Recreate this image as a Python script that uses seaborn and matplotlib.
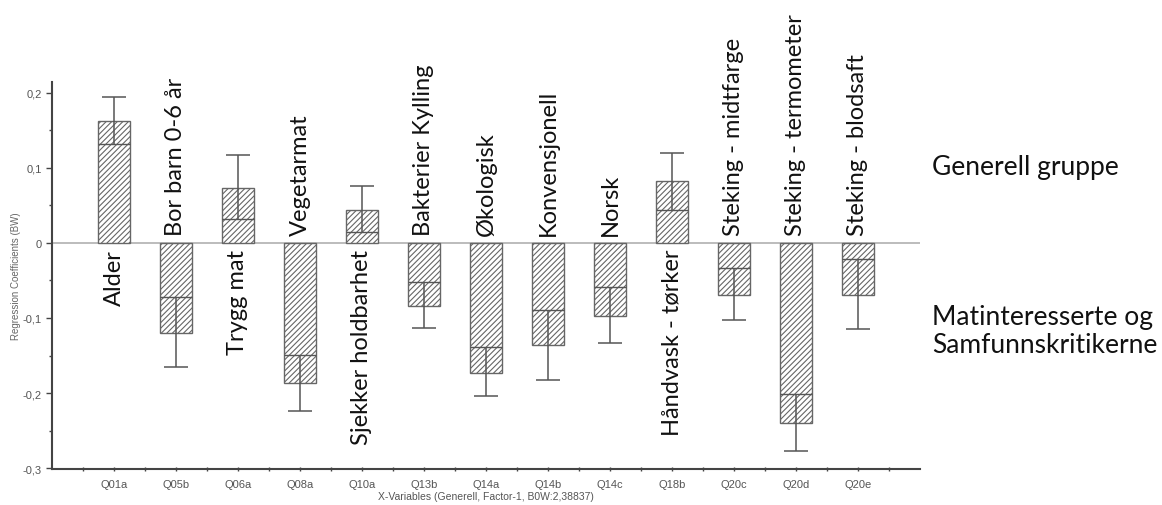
import numpy as np
import matplotlib
matplotlib.use("Agg")
import matplotlib.pyplot as plt
import seaborn as sns

# Data
codes = ["Q01a", "Q05b", "Q06a", "Q08a", "Q10a", "Q13b", "Q14a",
         "Q14b", "Q14c", "Q18b", "Q20c", "Q20d", "Q20e"]
names = ["Alder", "Bor barn 0-6 år", "Trygg mat", "Vegetarmat",
         "Sjekker holdbarhet", "Bakterier Kylling", "Økologisk",
         "Konvensjonell", "Norsk", "Håndvask - tørker",
         "Steking - midtfarge", "Steking - termometer", "Steking - blodsaft"]
coef = [0.162, -0.120, 0.073, -0.187, 0.044, -0.084, -0.173,
        -0.136, -0.097, 0.082, -0.070, -0.240, -0.070]
ci_low = [0.131, -0.165, 0.032, -0.224, 0.015, -0.113, -0.204,
          -0.182, -0.133, 0.044, -0.103, -0.277, -0.115]
ci_high = [0.194, -0.072, 0.117, -0.149, 0.076, -0.052, -0.138,
           -0.089, -0.059, 0.120, -0.033, -0.201, -0.021]
yticks = [0.2, 0.1, 0.0, -0.1, -0.2, -0.3]
ytick_labels = ["0,2", "0,1", "0", "-0,1", "-0,2", "-0,3"]
group_top = "Generell gruppe"
group_bottom = "Matinteresserte og\nSamfunnskritikerne"

sns.set_style("ticks")
plt.rcParams["font.family"] = ["Liberation Sans", "DejaVu Sans"]
plt.rcParams["hatch.color"] = "#4a4a4a"
plt.rcParams["hatch.linewidth"] = 0.8

fig = plt.figure(figsize=(11.62, 5.06), dpi=100)
ax = fig.add_axes([52 / 1162, 36 / 506, 868 / 1162, 387 / 506])

bar_w = 0.51
sns.barplot(x=codes, y=coef, color="white", saturation=1, edgecolor="#666666",
            linewidth=1.0, width=bar_w, ax=ax)
for p in ax.patches:
    p.set_hatch("//////")

ax.axhline(0, color="#b0b0b0", lw=1.2, zorder=0)

# error bars: cap at the outer end, full-width line at the inner end
x = np.arange(len(codes))
coef_a = np.array(coef)
lo = np.array(ci_low)
hi = np.array(ci_high)
outer = np.where(coef_a > 0, hi, lo)
inner = np.where(coef_a > 0, lo, hi)
ax.vlines(x, lo, hi, color="#555555", lw=1.1, zorder=3)
ax.hlines(outer, x - 0.2, x + 0.2, color="#555555", lw=1.1, zorder=3)
ax.hlines(inner, x - bar_w / 2, x + bar_w / 2, color="#555555", lw=1.0, zorder=3)

# variable names above/below the zero line
for xi, c, name in zip(x, coef, names):
    if c > 0:
        ax.text(xi, -0.008, name, rotation=90, ha="center", va="top",
                fontsize=17, family=["Lato", "DejaVu Sans"], color="#111111")
    else:
        ax.text(xi, 0.011, name, rotation=90, ha="center", va="bottom",
                fontsize=17, family=["Lato", "DejaVu Sans"], color="#111111")

ax.set_xlim(-1, 13)
ax.set_ylim(-0.301, 0.214)
ax.set_yticks(yticks)
ax.set_yticklabels(ytick_labels)
ax.set_yticks(np.arange(-0.3, 0.21, 0.05), minor=True)
ax.set_xticks(x)
ax.set_xticklabels(codes)
ax.set_xticks(np.arange(-0.5, 13, 1), minor=True)

ax.tick_params(axis="both", which="both", colors="#444444", labelcolor="#555555",
               labelsize=8, width=1)
ax.tick_params(axis="y", which="major", length=4)
ax.tick_params(axis="y", which="minor", length=2)
ax.tick_params(axis="x", which="both", length=3, direction="inout", pad=6)

ax.set_ylabel("Regression Coefficients (BW)", fontsize=7, color="#666666")
ax.yaxis.set_label_coords(-0.036, 0.5)
ax.set_xlabel("X-Variables (Generell, Factor-1, B0W:2,38837)", fontsize=7.5,
              color="#555555", labelpad=1)

sns.despine(ax=ax)
for s in ["left", "bottom"]:
    ax.spines[s].set_color("#444444")
    ax.spines[s].set_linewidth(1.5)

fig.text(932 / 1162, 1 - 167 / 506, group_top, fontsize=19, va="center",
         family=["Lato", "DejaVu Sans"], color="#111111")
fig.text(932 / 1162, 1 - 332 / 506, group_bottom, fontsize=19, va="center",
         family=["Lato", "DejaVu Sans"], color="#111111", linespacing=1.15)

fig.savefig("out.png", dpi=100)
